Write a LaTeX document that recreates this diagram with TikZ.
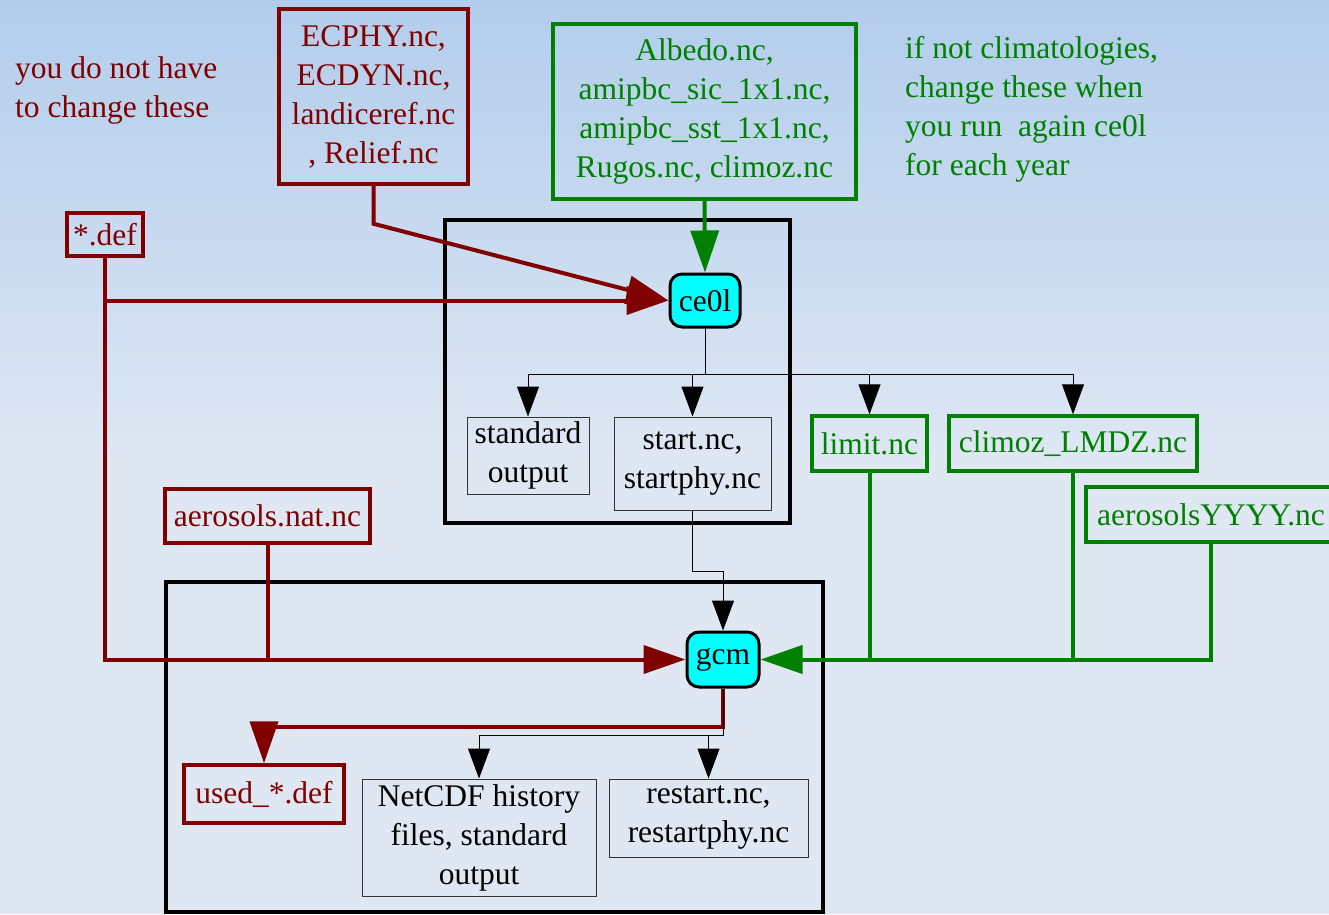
\documentclass[tikz,border=0pt]{standalone}
\usepackage{fontspec}
\setmainfont{Liberation Serif}
\usepackage{xcolor}
\usetikzlibrary{arrows.meta}

\definecolor{darkred}{RGB}{128,0,0}
\definecolor{darkgreen}{RGB}{0,128,0}
\definecolor{progcyan}{RGB}{0,255,255}
\definecolor{skytop}{RGB}{178,205,236}
\definecolor{skybottom}{RGB}{223,231,243}

\tikzset{
  redfile/.style={draw=darkred, line width=3.5pt, text=darkred, inner sep=0pt, align=center},
  greenfile/.style={draw=darkgreen, line width=3.5pt, text=darkgreen, inner sep=0pt, align=center},
  outfile/.style={draw=black!80, line width=1pt, inner sep=0pt, align=center},
  prog/.style={draw, line width=3pt, fill=progcyan, rounded corners=12pt, inner sep=0pt},
  redline/.style={darkred, line width=4pt, -{Triangle[length=42pt,width=28pt]}},
  greenline/.style={darkgreen, line width=4pt, -{Triangle[length=42pt,width=28pt]}},
  thinline/.style={black, line width=1pt, -{Triangle[length=30pt,width=22pt]}},
}

\begin{document}
\begin{tikzpicture}[x=1pt, y=-1pt, font=\fontsize{31.5}{39}\selectfont]
\useasboundingbox (0,0) rectangle (1329,914);
\fill[skybottom] (0,0) rectangle (1329,914);
\shade[top color=skytop, bottom color=skybottom] (0,0) rectangle (1329,460);

% the two runs
\draw[line width=3.5pt] (445,220) rectangle (790,523);
\draw[line width=3.5pt] (166,582) rectangle (823,912);

% notes
\node[anchor=west, inner sep=0pt, align=left, text=darkred] (keepnote) at (15,90)
  {you do not have\\to change these};
\node[anchor=west, inner sep=0pt, align=left, text=darkgreen] (yearnote) at (905,109)
  {if not climatologies,\\change these when\\you run~ again ce0l\\for each year};

% input files
\node[redfile, minimum width=189pt, minimum height=175pt] (ecphy) at (373.5,96.5)
  {ECPHY.nc,\\ECDYN.nc,\\landiceref.nc\\, Relief.nc};
\node[greenfile, minimum width=303pt, minimum height=175pt] (albedo) at (704.5,111.5)
  {Albedo.nc,\\amipbc\_sic\_1x1.nc,\\amipbc\_sst\_1x1.nc,\\Rugos.nc, climoz.nc};
\node[redfile, minimum width=76pt, minimum height=43pt] (def) at (105,234.5) {*.def};
\node[redfile, minimum width=205pt, minimum height=54pt] (aernat) at (267.5,516) {aerosols.nat.nc};

% programs
\node[prog, minimum width=70pt, minimum height=53pt] (ce0l) at (705,300.5) {ce0l};
\node[prog, minimum width=72pt, minimum height=55pt] (gcm) at (723,659.5) {gcm};

% ce0l outputs
\node[outfile, minimum width=122pt, minimum height=77pt] (stdout) at (528,455.5) {standard\\output};
\node[outfile, minimum width=157pt, minimum height=93pt] (start) at (692.5,463.5) {start.nc,\\startphy.nc};
\node[greenfile, minimum width=115pt, minimum height=55pt] (limit) at (869.5,443.5) {limit.nc};
\node[greenfile, minimum width=248pt, minimum height=55pt] (climoz) at (1073,443.5) {climoz\_LMDZ.nc};
\node[greenfile, minimum width=250pt, minimum height=55pt] (aeryyyy) at (1211,514.5) {aerosolsYYYY.nc};

% gcm outputs
\node[redfile, minimum width=160pt, minimum height=58pt] (used) at (264,794) {used\_*.def};
\node[outfile, minimum width=234pt, minimum height=117pt] (netcdf) at (479,837.5)
  {NetCDF history\\files, standard\\output};
\node[outfile, minimum width=199pt, minimum height=78pt] (restart) at (708.5,818) {restart.nc,\\restartphy.nc};

% red inputs
\draw[redline] (ecphy.south) -- ++(0,38) -- (ce0l.west);
\draw[redline] (def.south |- ce0l.west) -- (ce0l.west);
\draw[redline] (def.south) |- (gcm.west);
\draw[darkred, line width=4pt] (aernat.south) -- (aernat.south |- gcm.west);

% green inputs
\draw[greenline] (albedo.south) -- (ce0l.north);
\draw[greenline] (aeryyyy.south) |- (gcm.east);
\draw[darkgreen, line width=4pt] (limit.south) -- (limit.south |- gcm.east);
\draw[darkgreen, line width=4pt] (climoz.south) -- (climoz.south |- gcm.east);

% ce0l to its outputs
\draw[thinline] (ce0l.south) -- ++(0,46) coordinate (split1) -| (stdout.north);
\draw[thinline] (split1) -| (start.north);
\draw[thinline] (split1) -| (limit.north);
\draw[thinline] (split1) -| (climoz.north);
\draw[thinline] (start.south) -- ++(0,61) -| (gcm.north);

% gcm to its outputs
\draw[redline] (gcm.south) -- ++(0,38) -| (used.north);
\draw[thinline] (gcm.south) -- ++(0,47) coordinate (split2) -| (netcdf.north);
\draw[thinline] (split2) -| (restart.north);
\end{tikzpicture}
\end{document}
